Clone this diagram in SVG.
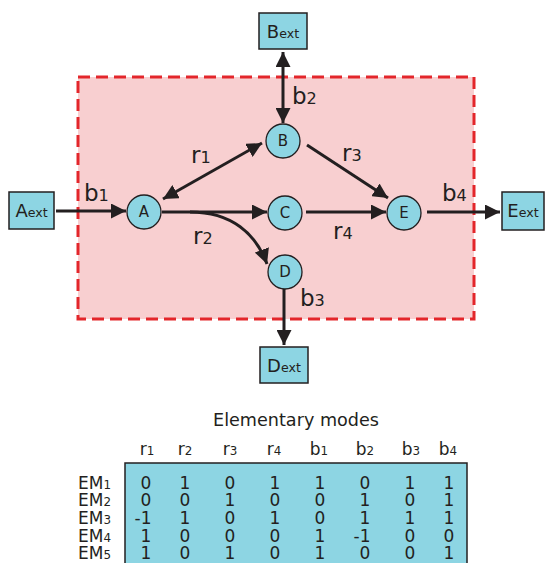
<svg xmlns="http://www.w3.org/2000/svg" width="545" height="563" viewBox="0 0 545 563">
<defs>
<style>
text{font-family:"DejaVu Sans",Verdana,sans-serif;fill:#231f20}
.node{fill:#8dd5e3;stroke:#231f20;stroke-width:1.3}
.ext{fill:#8dd5e3;stroke:#231f20;stroke-width:1.5}
.nl{font-size:15px;text-anchor:middle}
.el{font-size:18px;text-anchor:middle}
.lab{font-size:23px}
.conn{fill:none;stroke:#231f20;stroke-width:3}
.s{font-size:0.7em}
.hdr{font-size:17px;text-anchor:middle}
.val{font-size:17px;text-anchor:middle}
.em{font-size:17px}
</style>
<marker id="ah" viewBox="0 0 15 15" refX="15" refY="7.5" markerWidth="15" markerHeight="15" markerUnits="userSpaceOnUse" orient="auto-start-reverse">
<path d="M0,0 L15,7.5 L0,15 z" fill="#231f20"/>
</marker>
</defs>
<rect width="545" height="563" fill="#ffffff"/>
<rect id="compartment" x="78" y="77" width="396" height="242" fill="#f8cfd0" stroke="#e3262b" stroke-width="3" stroke-dasharray="12,6"/>
<g id="connectors">
<path class="conn" d="M56,211 L126,211" marker-end="url(#ah)"/>
<path class="conn" d="M162,212 L267,212" marker-end="url(#ah)"/>
<path class="conn" d="M190,212 C232,212 256,234 267,264" marker-end="url(#ah)"/>
<path class="conn" d="M306,212 L386,212" marker-end="url(#ah)"/>
<path class="conn" d="M427,212 L500,212" marker-end="url(#ah)"/>
<path class="conn" d="M163,199 L262,143" marker-start="url(#ah)" marker-end="url(#ah)"/>
<path class="conn" d="M307,145 L388,198" marker-end="url(#ah)"/>
<path class="conn" d="M283,52 L283,123" marker-start="url(#ah)" marker-end="url(#ah)"/>
<path class="conn" d="M284,289 L284,345" marker-end="url(#ah)"/>
</g>
<g id="labels">
<text class="lab" x="84" y="201">b<tspan class="s">1</tspan></text>
<text class="lab" x="292" y="104">b<tspan class="s">2</tspan></text>
<text class="lab" x="300" y="306">b<tspan class="s">3</tspan></text>
<text class="lab" x="442" y="201">b<tspan class="s">4</tspan></text>
<text class="lab" x="191" y="163">r<tspan class="s">1</tspan></text>
<text class="lab" x="193" y="244">r<tspan class="s">2</tspan></text>
<text class="lab" x="342" y="161">r<tspan class="s">3</tspan></text>
<text class="lab" x="333" y="239">r<tspan class="s">4</tspan></text>
</g>
<g id="node-A"><circle class="node" cx="144" cy="212" r="17"/><text class="nl" x="144" y="217">A</text></g>
<g id="node-B"><circle class="node" cx="283" cy="141" r="17"/><text class="nl" x="283" y="146">B</text></g>
<g id="node-C"><circle class="node" cx="285" cy="213" r="17"/><text class="nl" x="285" y="218">C</text></g>
<g id="node-D"><circle class="node" cx="285" cy="272" r="17"/><text class="nl" x="285" y="277">D</text></g>
<g id="node-E"><circle class="node" cx="404" cy="213" r="17"/><text class="nl" x="404" y="218">E</text></g>
<g id="node-Aext"><rect class="ext" x="9" y="192" width="45" height="37"/><text class="el" x="31.5" y="217">A<tspan class="s">ext</tspan></text></g>
<g id="node-Bext"><rect class="ext" x="259" y="13" width="48" height="36"/><text class="el" x="283" y="38">B<tspan class="s">ext</tspan></text></g>
<g id="node-Dext"><rect class="ext" x="260" y="347" width="48" height="36"/><text class="el" x="284" y="372">D<tspan class="s">ext</tspan></text></g>
<g id="node-Eext"><rect class="ext" x="502" y="192" width="42" height="38"/><text class="el" x="523" y="217">E<tspan class="s">ext</tspan></text></g>
<g id="table">
<text x="296" y="426" style="font-size:17.6px;text-anchor:middle">Elementary modes</text>
<text class="hdr" x="147" y="455">r<tspan class="s">1</tspan></text>
<text class="hdr" x="185" y="455">r<tspan class="s">2</tspan></text>
<text class="hdr" x="230" y="455">r<tspan class="s">3</tspan></text>
<text class="hdr" x="274" y="455">r<tspan class="s">4</tspan></text>
<text class="hdr" x="319" y="455">b<tspan class="s">1</tspan></text>
<text class="hdr" x="365" y="455">b<tspan class="s">2</tspan></text>
<text class="hdr" x="411" y="455">b<tspan class="s">3</tspan></text>
<text class="hdr" x="448" y="455">b<tspan class="s">4</tspan></text>
<rect x="125" y="463" width="342" height="110" fill="#8dd5e3" stroke="#231f20" stroke-width="1.5"/>
<text class="em" x="78" y="489">EM<tspan class="s">1</tspan></text>
<text class="em" x="78" y="506">EM<tspan class="s">2</tspan></text>
<text class="em" x="78" y="524">EM<tspan class="s">3</tspan></text>
<text class="em" x="78" y="542">EM<tspan class="s">4</tspan></text>
<text class="em" x="78" y="559">EM<tspan class="s">5</tspan></text>
<g class="val">
<text class="val" x="146" y="489">0</text><text class="val" x="185" y="489">1</text><text class="val" x="230" y="489">0</text><text class="val" x="275" y="489">1</text><text class="val" x="320" y="489">1</text><text class="val" x="365" y="489">0</text><text class="val" x="410" y="489">1</text><text class="val" x="449" y="489">1</text>
<text class="val" x="146" y="506">0</text><text class="val" x="185" y="506">0</text><text class="val" x="230" y="506">1</text><text class="val" x="275" y="506">0</text><text class="val" x="320" y="506">0</text><text class="val" x="365" y="506">1</text><text class="val" x="410" y="506">0</text><text class="val" x="449" y="506">1</text>
<text class="val" x="143" y="524">-1</text><text class="val" x="185" y="524">1</text><text class="val" x="230" y="524">0</text><text class="val" x="275" y="524">1</text><text class="val" x="320" y="524">0</text><text class="val" x="365" y="524">1</text><text class="val" x="410" y="524">1</text><text class="val" x="449" y="524">1</text>
<text class="val" x="146" y="542">1</text><text class="val" x="185" y="542">0</text><text class="val" x="230" y="542">0</text><text class="val" x="275" y="542">0</text><text class="val" x="320" y="542">1</text><text class="val" x="362" y="542">-1</text><text class="val" x="410" y="542">0</text><text class="val" x="449" y="542">0</text>
<text class="val" x="146" y="559">1</text><text class="val" x="185" y="559">0</text><text class="val" x="230" y="559">1</text><text class="val" x="275" y="559">0</text><text class="val" x="320" y="559">1</text><text class="val" x="365" y="559">0</text><text class="val" x="410" y="559">0</text><text class="val" x="449" y="559">1</text>
</g>
</g>
</svg>
